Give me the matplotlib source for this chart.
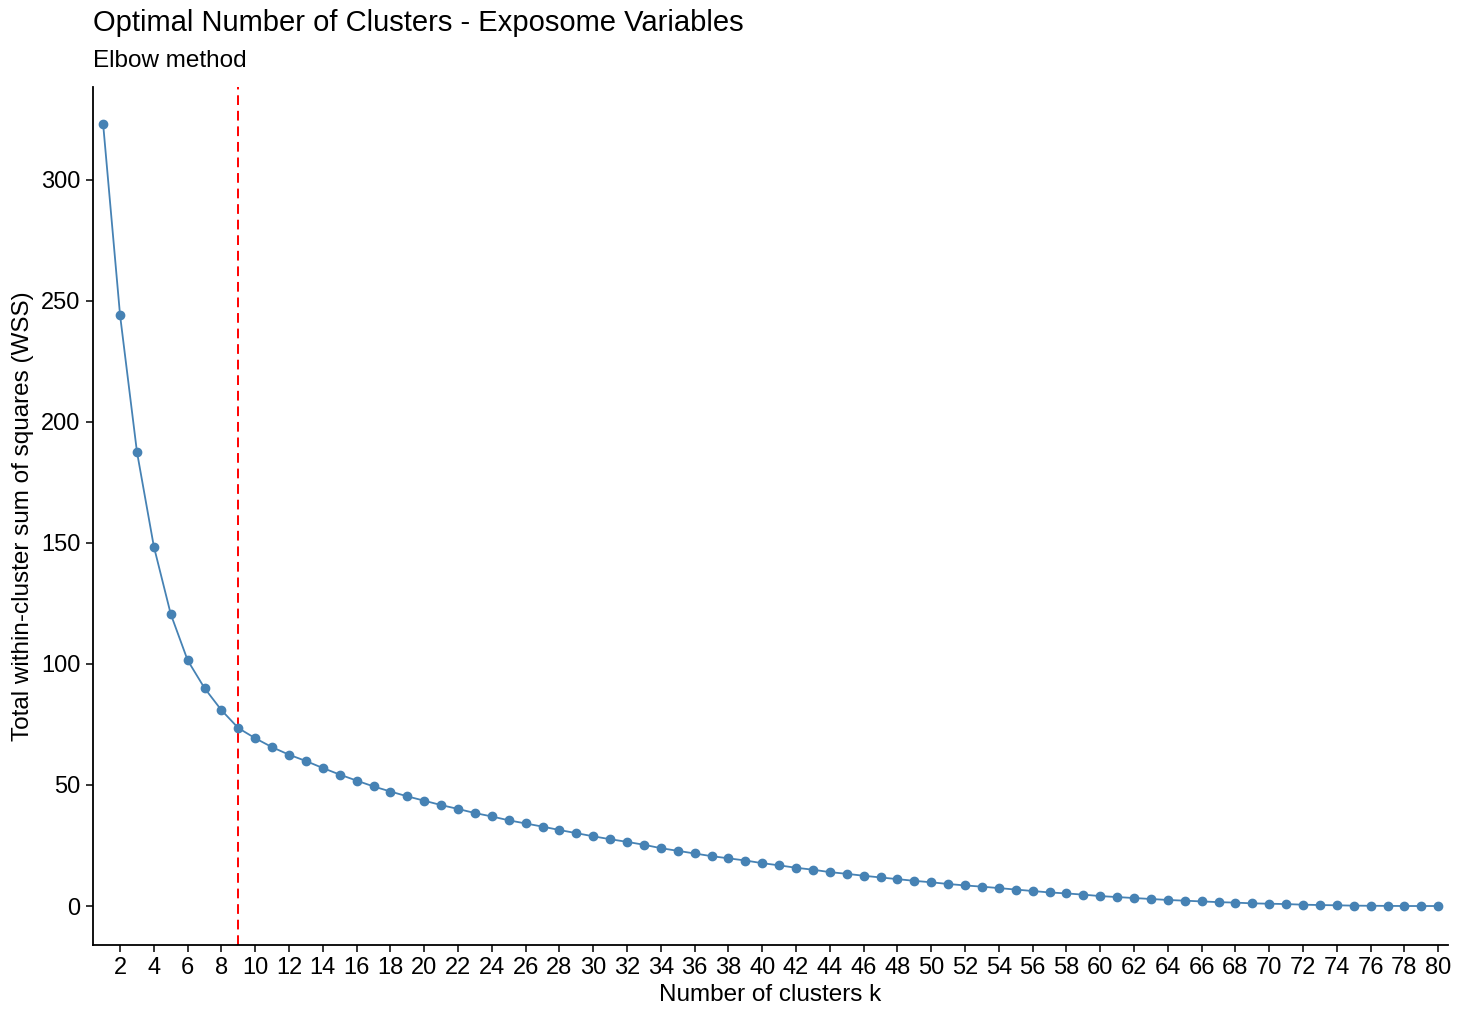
import numpy as np
import matplotlib.pyplot as plt

plt.rcParams['font.family'] = ['Liberation Sans', 'DejaVu Sans']

# number of clusters and total within-cluster sum of squares
k_values = np.arange(1, 81)
wss = [
    322.9, 244.1, 187.6, 148.5, 120.6, 101.5, 90.0, 80.9, 73.5, 69.3,
    65.6, 62.5, 59.9, 57.0, 54.3, 51.8, 49.4, 47.3, 45.3, 43.5,
    41.7, 40.1, 38.4, 37.0, 35.4, 34.1, 32.8, 31.4, 30.1, 28.8,
    27.6, 26.5, 25.3, 23.9, 22.8, 21.7, 20.6, 19.7, 18.8, 17.7,
    16.8, 15.8, 15.0, 14.0, 13.3, 12.5, 11.8, 11.1, 10.4, 9.8,
    9.1, 8.5, 8.0, 7.4, 6.8, 6.2, 5.6, 5.2, 4.7, 4.1,
    3.7, 3.3, 2.9, 2.5, 2.2, 1.9, 1.6, 1.4, 1.1, 0.95,
    0.8, 0.55, 0.4, 0.3, 0.15, 0.1, 0.05, 0.0, 0.0, 0.0,
]
optimal_k = 9
x_ticks = np.arange(2, 81, 2)
y_ticks = [0, 50, 100, 150, 200, 250, 300]

fig = plt.figure(figsize=(14.58, 10.11), dpi=100)
ax = fig.add_axes([0.0638, 0.0653, 0.929, 0.849])

ax.plot(k_values, wss, color='#4682B4', linewidth=1.3, marker='o',
        markersize=6, zorder=3)
ax.axvline(optimal_k, color='#FF0000', linestyle=(0, (5, 3)), linewidth=1.4,
           zorder=2)

ax.set_xlim(0.4, 80.55)
ax.set_ylim(-16.1, 338.5)
ax.set_xticks(x_ticks)
ax.set_yticks(y_ticks)
ax.tick_params(labelsize=17, length=5, width=1.1, color='black',
               labelcolor='black', pad=4)

for side in ['top', 'right']:
    ax.spines[side].set_visible(False)
for side in ['left', 'bottom']:
    ax.spines[side].set_linewidth(1.3)
    ax.spines[side].set_color('black')

ax.set_xlabel('Number of clusters k', fontsize=17.5, labelpad=3)
ax.set_ylabel('Total within-cluster sum of squares (WSS)', fontsize=17.5,
              labelpad=5)

fig.text(0.0638, 0.977, 'Optimal Number of Clusters - Exposome Variables',
         fontsize=21, va='center', ha='left')
fig.text(0.0638, 0.94, 'Elbow method', fontsize=17.5, va='center', ha='left')

fig.savefig('out.png', dpi=100)
